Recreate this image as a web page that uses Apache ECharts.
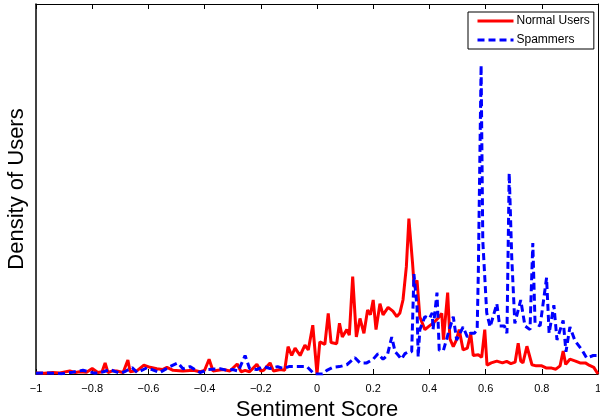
<!DOCTYPE html>
<html>
<head>
<meta charset="utf-8">
<script src="https://cdn.jsdelivr.net/npm/echarts@6/dist/echarts.min.js"></script>
<style>html,body{margin:0;padding:0;background:#fff;}#c{width:600px;height:417px;}</style>
</head>
<body>
<div id="c"></div>
<script>
var xTicks = [-1, -0.8, -0.6, -0.4, -0.2, 0, 0.2, 0.4, 0.6, 0.8, 1];
var seriesNames = ['Normal Users', 'Spammers'];

var normalX = [-1.00,-0.97,-0.94,-0.915,-0.88,-0.86,-0.845,-0.82,-0.80,-0.78,-0.765,-0.754,-0.744,-0.73,-0.713,-0.69,-0.673,-0.665,-0.65,-0.64,-0.616,-0.594,-0.57,-0.55,-0.534,-0.512,-0.49,-0.477,-0.44,-0.416,-0.40,-0.384,-0.37,-0.334,-0.31,-0.284,-0.27,-0.256,-0.24,-0.214,-0.20,-0.19,-0.167,-0.155,-0.13,-0.115,-0.103,-0.09,-0.078,-0.06,-0.043,-0.031,-0.015,0.000,0.01,0.028,0.04,0.05,0.057,0.07,0.08,0.09,0.106,0.115,0.127,0.14,0.153,0.167,0.18,0.19,0.20,0.21,0.224,0.235,0.253,0.27,0.284,0.295,0.306,0.318,0.327,0.34,0.346,0.356,0.366,0.384,0.40,0.413,0.43,0.444,0.45,0.465,0.473,0.485,0.495,0.506,0.52,0.535,0.547,0.556,0.574,0.586,0.597,0.605,0.62,0.64,0.66,0.675,0.69,0.705,0.716,0.725,0.733,0.747,0.765,0.78,0.80,0.817,0.835,0.85,0.865,0.876,0.885,0.90,0.92,0.936,0.955,0.97,0.985,1.00];
var normalY = [0.003,0.002,0.004,0.003,0.008,0.004,0.006,0.005,0.015,0.004,0.006,0.030,0.004,0.008,0.008,0.004,0.038,0.006,0.008,0.009,0.024,0.018,0.014,0.012,0.018,0.010,0.009,0.008,0.010,0.006,0.010,0.040,0.008,0.012,0.008,0.027,0.006,0.010,0.006,0.026,0.008,0.010,0.030,0.008,0.012,0.010,0.074,0.050,0.070,0.050,0.078,0.065,0.132,0.000,0.087,0.080,0.164,0.085,0.080,0.082,0.137,0.100,0.120,0.105,0.263,0.100,0.150,0.110,0.173,0.160,0.200,0.120,0.190,0.160,0.180,0.170,0.155,0.165,0.200,0.290,0.420,0.300,0.235,0.253,0.154,0.120,0.130,0.137,0.150,0.164,0.093,0.220,0.095,0.074,0.090,0.120,0.065,0.070,0.110,0.050,0.052,0.045,0.120,0.024,0.030,0.035,0.030,0.034,0.028,0.032,0.083,0.035,0.030,0.075,0.025,0.022,0.022,0.016,0.016,0.013,0.022,0.062,0.026,0.040,0.035,0.030,0.030,0.023,0.018,0.000];

var spamX = [-1.00,-0.97,-0.94,-0.907,-0.87,-0.833,-0.79,-0.76,-0.737,-0.70,-0.68,-0.658,-0.64,-0.605,-0.58,-0.56,-0.523,-0.495,-0.477,-0.452,-0.43,-0.416,-0.388,-0.345,-0.32,-0.30,-0.28,-0.256,-0.24,-0.214,-0.19,-0.167,-0.14,-0.12,-0.10,-0.07,-0.036,-0.01,0.02,0.035,0.057,0.08,0.106,0.135,0.153,0.177,0.20,0.217,0.235,0.25,0.266,0.278,0.29,0.30,0.313,0.325,0.337,0.345,0.356,0.36,0.366,0.384,0.40,0.41,0.413,0.427,0.435,0.45,0.467,0.485,0.497,0.52,0.535,0.545,0.56,0.57,0.574,0.584,0.59,0.604,0.616,0.64,0.65,0.667,0.676,0.684,0.693,0.704,0.725,0.74,0.758,0.768,0.776,0.794,0.817,0.826,0.843,0.854,0.876,0.886,0.90,0.918,0.943,0.96,0.983,1.00];
var spamY = [0.002,0.003,0.002,0.001,0.005,0.010,0.002,0.006,0.012,0.002,0.008,0.017,0.004,0.017,0.010,0.004,0.020,0.030,0.014,0.020,0.010,0.004,0.012,0.014,0.010,0.012,0.008,0.050,0.015,0.012,0.020,0.015,0.020,0.015,0.020,0.020,0.020,0.000,0.000,0.010,0.018,0.020,0.025,0.044,0.030,0.030,0.040,0.055,0.040,0.050,0.100,0.060,0.050,0.040,0.055,0.060,0.060,0.270,0.180,0.046,0.120,0.155,0.150,0.165,0.120,0.220,0.064,0.064,0.110,0.155,0.092,0.127,0.100,0.110,0.110,0.120,0.270,0.835,0.360,0.165,0.127,0.190,0.130,0.130,0.110,0.543,0.316,0.137,0.200,0.130,0.120,0.354,0.137,0.130,0.260,0.110,0.186,0.092,0.145,0.060,0.127,0.090,0.065,0.043,0.050,0.050];

function pairs(xs, ys) { return xs.map(function (x, i) { return [x, ys[i]]; }); }
function fmt(v) { var r = Math.round(v * 10) / 10; return String(r).replace('-', '\u2212'); }

var FONT = 'Liberation Sans, Arial, Helvetica, sans-serif';
var chart = echarts.init(document.getElementById('c'), null, { renderer: 'canvas' });
chart.setOption({
  animation: false,
  backgroundColor: '#fff',
  textStyle: { fontFamily: FONT },
  grid: { left: 36, top: 4, width: 562, height: 370, containLabel: false, outerBoundsMode: 'none' },
  legend: {
    data: seriesNames,
    orient: 'vertical',
    left: 468, top: 12,
    padding: [3, 4, 3, 8],
    itemWidth: 36, itemHeight: 12, itemGap: 7,
    borderColor: '#000', borderWidth: 1, borderRadius: 0,
    backgroundColor: '#fff',
    itemStyle: { opacity: 0 },
    lineStyle: { width: 3 },
    textStyle: { fontFamily: FONT, fontSize: 12, color: '#000', padding: [0, 0, 0, -2] }
  },
  xAxis: [{
    type: 'value', min: -1, max: 1, interval: 0.2, position: 'bottom',
    axisLine: { onZero: false, lineStyle: { color: '#000', width: 1 } },
    axisTick: { inside: true, length: 5, lineStyle: { color: '#000' } },
    axisLabel: { formatter: fmt, fontSize: 11, color: '#000', margin: 9, fontFamily: FONT },
    splitLine: { show: false },
    name: 'Sentiment Score', nameLocation: 'middle', nameGap: 15,
    nameTextStyle: { fontSize: 22, color: '#000', fontFamily: FONT }
  }, {
    type: 'value', min: -1, max: 1, interval: 0.2, position: 'top',
    axisLine: { onZero: false, lineStyle: { color: '#000', width: 1 } },
    axisTick: { inside: true, length: 5, lineStyle: { color: '#000' } },
    axisLabel: { show: false }, splitLine: { show: false }
  }],
  yAxis: [{
    type: 'value', min: 0, max: 1, position: 'left',
    axisLine: { show: true, onZero: false, lineStyle: { color: '#000', width: 1.5 } },
    axisTick: { show: false }, axisLabel: { show: false }, splitLine: { show: false },
    name: 'Density of Users', nameLocation: 'middle', nameGap: 8, nameRotate: 90,
    nameTextStyle: { fontSize: 22, color: '#000', fontFamily: FONT }
  }, {
    type: 'value', min: 0, max: 1, position: 'right',
    axisLine: { show: true, onZero: false, lineStyle: { color: '#000', width: 1 } },
    axisTick: { show: false }, axisLabel: { show: false }, splitLine: { show: false }
  }],
  series: [{
    name: seriesNames[0], type: 'line', symbol: 'none', showSymbol: false,
    data: pairs(normalX, normalY),
    lineStyle: { color: '#ff0000', width: 3 },
    itemStyle: { color: '#ff0000' }
  }, {
    name: seriesNames[1], type: 'line', symbol: 'none', showSymbol: false,
    data: pairs(spamX, spamY),
    lineStyle: { color: '#0000ff', width: 3, type: [7, 4] },
    itemStyle: { color: '#0000ff' }
  }]
});
</script>
</body>
</html>
